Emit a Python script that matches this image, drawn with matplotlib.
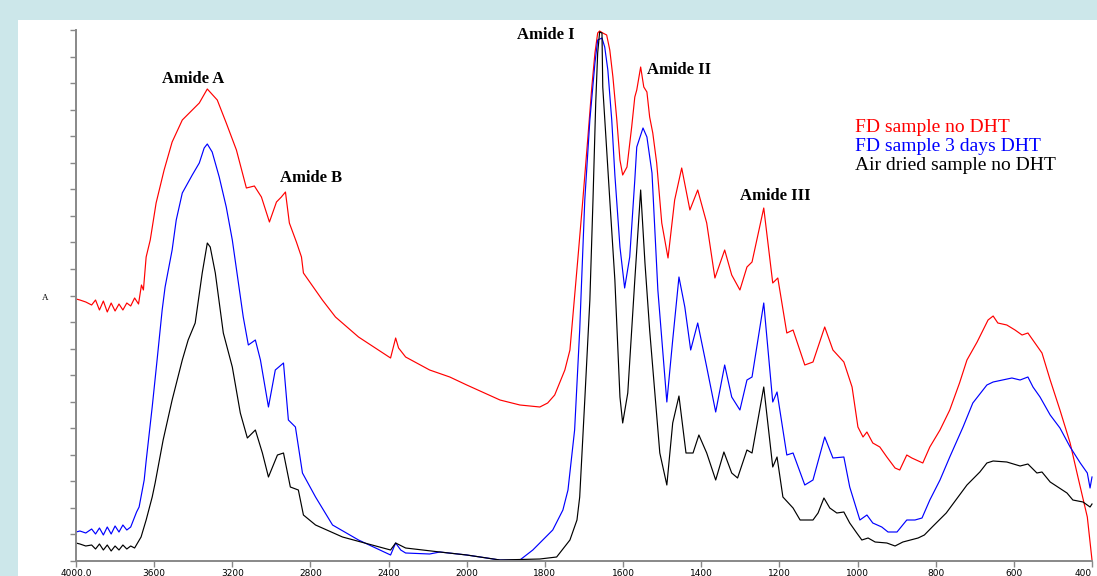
import numpy as np
import matplotlib
matplotlib.use("Agg")
import matplotlib.pyplot as plt
from matplotlib.patches import Rectangle

# ---------------- data (wavenumber cm-1, absorbance a.u.) ----------------
red_wn = [4000, 3980, 3950, 3920, 3900, 3880, 3860, 3840, 3820, 3800, 3780, 3760, 3740, 3720, 3700,
          3680, 3665, 3655, 3641, 3620, 3590, 3549, 3508, 3456, 3405, 3369, 3328, 3277, 3231, 3179,
          3128, 3087, 3051, 3010, 2974, 2949, 2928, 2908, 2872, 2846, 2836, 2739, 2672, 2554, 2390,
          2364, 2349, 2313, 2190, 2087, 2000, 1915, 1864, 1813, 1793, 1775, 1749, 1736, 1716, 1703,
          1690, 1680, 1672, 1665, 1660, 1652, 1642, 1634, 1626, 1616, 1608, 1601, 1590, 1578, 1570,
          1565, 1555, 1547, 1539, 1532, 1524, 1514, 1501, 1485, 1468, 1450, 1429, 1409, 1386, 1365,
          1340, 1322, 1301, 1283, 1270, 1240, 1217, 1204, 1181, 1165, 1135, 1114, 1084, 1063, 1035,
          1014, 999, 986, 976, 961, 943, 925, 904, 892, 874, 861, 833, 815, 789, 764,
          739, 720, 694, 666, 653, 641, 618, 597, 579, 564, 528, 507, 482, 456, 436,
          412, 400]
red_a = [1.31, 1.305, 1.295, 1.28, 1.305, 1.255, 1.30, 1.245, 1.29, 1.25, 1.285, 1.255, 1.29, 1.275, 1.315,
         1.285, 1.38, 1.355, 1.52, 1.605, 1.79, 1.955, 2.095, 2.205, 2.255, 2.29, 2.36, 2.305, 2.19, 2.055,
         1.865, 1.875, 1.82, 1.695, 1.795, 1.82, 1.845, 1.69, 1.595, 1.52, 1.44, 1.305, 1.22, 1.12, 1.015,
         1.115, 1.065, 1.02, 0.955, 0.92, 0.88, 0.805, 0.78, 0.77, 0.79, 0.83, 0.955, 1.055, 1.505, 1.805,
         2.12, 2.37, 2.54, 2.64, 2.65, 2.64, 2.63, 2.555, 2.42, 2.205, 2.005, 1.93, 1.97, 2.17, 2.32,
         2.355, 2.47, 2.37, 2.345, 2.22, 2.14, 1.99, 1.69, 1.515, 1.805, 1.965, 1.755, 1.855, 1.69, 1.415,
         1.555, 1.43, 1.355, 1.47, 1.495, 1.765, 1.39, 1.415, 1.14, 1.155, 0.98, 0.995, 1.17, 1.055, 0.995,
         0.87, 0.67, 0.62, 0.645, 0.59, 0.57, 0.52, 0.465, 0.455, 0.53, 0.515, 0.49, 0.57, 0.655, 0.755,
         0.89, 1.005, 1.095, 1.205, 1.225, 1.19, 1.18, 1.155, 1.13, 1.14, 1.04, 0.905, 0.755, 0.59, 0.42,
         0.22, 0.005]

blue_wn = [4000, 3980, 3950, 3920, 3900, 3880, 3860, 3840, 3820, 3800, 3780, 3760, 3740, 3720, 3700,
           3690, 3677, 3651, 3641, 3610, 3585, 3559, 3544, 3508, 3487, 3456, 3405, 3369, 3344, 3328,
           3303, 3267, 3231, 3200, 3169, 3144, 3118, 3082, 3056, 3015, 2980, 2938, 2913, 2877, 2841,
           2774, 2687, 2554, 2390, 2364, 2338, 2313, 2190, 2138, 2000, 1915, 1864, 1831, 1780, 1754,
           1741, 1724, 1711, 1698, 1685, 1672, 1665, 1654, 1647, 1639, 1629, 1621, 1608, 1596, 1583,
           1570, 1565, 1549, 1539, 1526, 1511, 1488, 1473, 1457, 1442, 1427, 1409, 1386, 1363, 1340,
           1322, 1301, 1283, 1270, 1240, 1217, 1206, 1181, 1165, 1135, 1114, 1084, 1063, 1035, 1020,
           1002, 994, 976, 961, 938, 922, 899, 874, 853, 835, 815, 789, 764, 730, 705,
           669, 653, 605, 584, 564, 551, 533, 507, 482, 456, 430, 412, 405, 400]
blue_a = [0.145, 0.15, 0.14, 0.16, 0.135, 0.165, 0.13, 0.17, 0.135, 0.175, 0.145, 0.18, 0.155, 0.17, 0.22,
          0.245, 0.27, 0.405, 0.50, 0.77, 1.005, 1.255, 1.37, 1.555, 1.705, 1.84, 1.93, 1.99, 2.065, 2.085,
          2.045, 1.92, 1.77, 1.605, 1.39, 1.22, 1.08, 1.105, 1.005, 0.77, 0.955, 0.99, 0.705, 0.67, 0.44,
          0.32, 0.18, 0.105, 0.03, 0.09, 0.055, 0.04, 0.035, 0.045, 0.03, 0.005, 0.005, 0.055, 0.155, 0.255,
          0.355, 0.655, 1.155, 1.805, 2.205, 2.49, 2.605, 2.615, 2.57, 2.455, 2.205, 1.93, 1.57, 1.365, 1.52,
          1.905, 2.07, 2.165, 2.12, 1.94, 1.355, 0.795, 1.105, 1.42, 1.27, 1.055, 1.19, 0.97, 0.745, 0.98,
          0.82, 0.755, 0.905, 0.92, 1.29, 0.795, 0.845, 0.53, 0.54, 0.38, 0.405, 0.62, 0.515, 0.52, 0.37,
          0.255, 0.205, 0.23, 0.19, 0.17, 0.145, 0.145, 0.205, 0.205, 0.215, 0.305, 0.405, 0.52, 0.67, 0.79,
          0.88, 0.895, 0.915, 0.905, 0.92, 0.87, 0.82, 0.73, 0.665, 0.57, 0.49, 0.44, 0.365, 0.42]

black_wn = [4000, 3980, 3950, 3920, 3900, 3880, 3860, 3840, 3820, 3800, 3780, 3760, 3740, 3720, 3700,
            3667, 3641, 3610, 3595, 3554, 3508, 3456, 3426, 3390, 3354, 3328, 3313, 3287, 3246, 3200,
            3159, 3123, 3082, 3046, 3015, 2969, 2938, 2903, 2862, 2836, 2774, 2636, 2390, 2364, 2313,
            2138, 2000, 1915, 1813, 1770, 1736, 1718, 1711, 1698, 1685, 1677, 1670, 1665, 1660, 1654,
            1652, 1644, 1634, 1621, 1608, 1601, 1588, 1570, 1555, 1544, 1532, 1506, 1488, 1473, 1457,
            1439, 1421, 1406, 1386, 1363, 1342, 1322, 1307, 1283, 1270, 1240, 1217, 1206, 1191, 1165,
            1147, 1114, 1101, 1086, 1071, 1053, 1035, 1020, 1002, 989, 973, 955, 925, 904, 884,
            845, 829, 809, 773, 720, 687, 669, 653, 618, 584, 564, 541, 528, 507, 464,
            449, 423, 405, 400]
black_a = [0.09, 0.085, 0.075, 0.08, 0.06, 0.085, 0.055, 0.08, 0.05, 0.075, 0.055, 0.08, 0.06, 0.075, 0.065,
           0.12, 0.205, 0.32, 0.39, 0.605, 0.805, 1.005, 1.105, 1.19, 1.44, 1.59, 1.57, 1.44, 1.14, 0.97,
           0.74, 0.615, 0.655, 0.54, 0.42, 0.53, 0.54, 0.37, 0.355, 0.23, 0.18, 0.12, 0.055, 0.09, 0.065,
           0.045, 0.03, 0.005, 0.01, 0.02, 0.105, 0.205, 0.32, 0.805, 1.305, 1.805, 2.29, 2.54, 2.645, 2.64,
           2.37, 2.12, 1.805, 1.405, 0.82, 0.69, 0.84, 1.405, 1.855, 1.49, 1.155, 0.54, 0.38, 0.69, 0.825,
           0.54, 0.54, 0.63, 0.54, 0.405, 0.545, 0.44, 0.415, 0.555, 0.54, 0.87, 0.47, 0.52, 0.32, 0.265,
           0.205, 0.205, 0.24, 0.315, 0.265, 0.24, 0.245, 0.19, 0.14, 0.105, 0.115, 0.095, 0.09, 0.075, 0.095,
           0.115, 0.13, 0.17, 0.24, 0.38, 0.445, 0.49, 0.50, 0.495, 0.475, 0.485, 0.44, 0.445, 0.395, 0.34,
           0.305, 0.295, 0.27, 0.285]

series_labels = ["FD sample no DHT", "FD sample 3 days DHT", "Air dried sample no DHT"]
series_colors = ["#ff0000", "#0000ff", "#000000"]

xtick_values = [4000, 3600, 3200, 2800, 2400, 2000, 1800, 1600, 1400, 1200, 1000, 800, 600, 400]
xtick_labels = ["4000.0", "3600", "3200", "2800", "2400", "2000", "1800", "1600",
                "1400", "1200", "1000", "800", "600", "400"]

band_labels = ["Amide A", "Amide B", "Amide I", "Amide II", "Amide III"]

# ---------------- figure ----------------
W, H = 1097, 576
fig = plt.figure(figsize=(W / 100, H / 100), dpi=100, facecolor="#cce7ea")
fig.patches.append(Rectangle((18 / W, 0), 1 - 18 / W, 1 - 20 / H, transform=fig.transFigure,
                             facecolor="white", edgecolor="none", zorder=-10))

ax = fig.add_axes([76 / W, 15 / H, (1092 - 76) / W, (561 - 30) / H])
ax.set_facecolor("none")
ax.set_zorder(5)


def fwd(w):
    w = np.asarray(w, dtype=float)
    return np.where(w >= 2000, w, 2000 - 2 * (2000 - w))


def inv(u):
    u = np.asarray(u, dtype=float)
    return np.where(u >= 2000, u, 2000 - (2000 - u) / 2)


ax.set_xscale("function", functions=(fwd, inv))

for wn, a, c in zip([red_wn, blue_wn, black_wn], [red_a, blue_a, black_a], series_colors):
    ax.plot(wn, a, color=c, lw=0.85, solid_joinstyle="round", clip_on=False)

ax.set_xlim(4000, 400)
ax.set_ylim(0, 2.655)

ax.set_xticks(xtick_values)
ax.set_xticklabels(xtick_labels, fontsize=6.5, family="DejaVu Sans")
ax.get_xticklabels()[-1].set_horizontalalignment("right")
ax.set_yticks(np.linspace(0, 2.655, 21))
ax.set_yticklabels([])
ax.tick_params(axis="x", direction="out", length=4, width=1, color="#888888", pad=1.5)
ax.tick_params(axis="y", direction="out", length=4, width=1, color="#888888")
ax.xaxis.set_minor_locator(matplotlib.ticker.NullLocator())

for s in ["top", "right"]:
    ax.spines[s].set_visible(False)
for s in ["left", "bottom"]:
    ax.spines[s].set_color("#888888")
    ax.spines[s].set_linewidth(1.4)

ax.text(-31 / (1092 - 76), 0.495, "A", transform=ax.transAxes, fontsize=6.5,
        family="Liberation Serif", ha="center", va="center")

# band annotations (pixel positions in figure)
band_px = [(193, 79), (311, 178), (546, 35), (679, 70), (775, 196)]
for lab, (px, py) in zip(band_labels, band_px):
    fig.text(px / W, 1 - py / H, lab, fontsize=12, fontweight="bold", family="Liberation Serif",
             ha="center", va="center", zorder=10)

# legend text
leg_y = [127, 147, 166]
for lab, c, py in zip(series_labels, series_colors, leg_y):
    fig.text(855 / W, 1 - py / H, lab, fontsize=14, color=c, family="Liberation Serif",
             ha="left", va="center", zorder=10)

fig.savefig("out.png", dpi=100, facecolor=fig.get_facecolor())
